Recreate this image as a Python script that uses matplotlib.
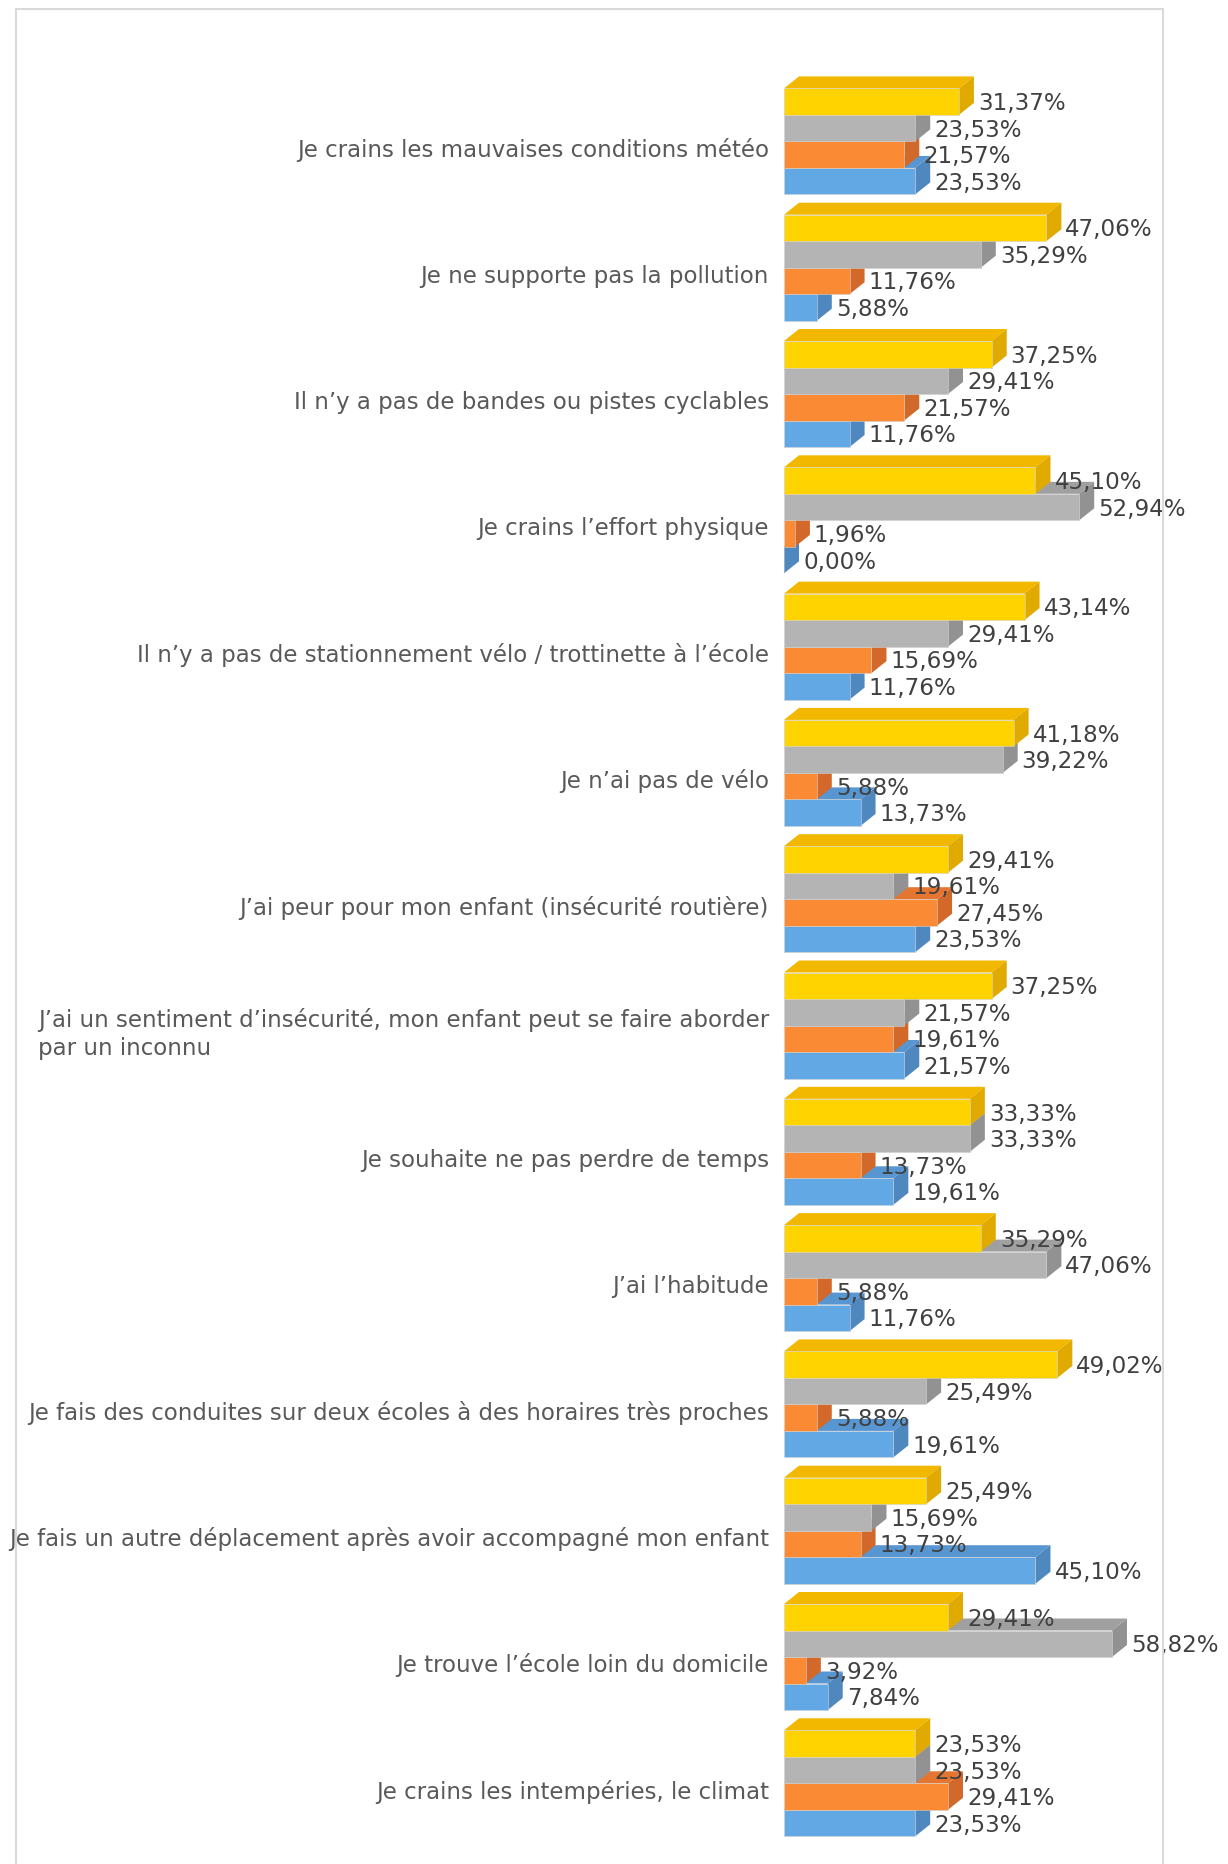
import matplotlib
matplotlib.use("Agg")
import matplotlib.pyplot as plt
from matplotlib.patches import Polygon, Rectangle

categories = [
    "Je crains les mauvaises conditions météo",
    "Je ne supporte pas la pollution",
    "Il n’y a pas de bandes ou pistes cyclables",
    "Je crains l’effort physique",
    "Il n’y a pas de stationnement vélo / trottinette à l’école",
    "Je n’ai pas de vélo",
    "J’ai peur pour mon enfant (insécurité routière)",
    "J’ai un sentiment d’insécurité, mon enfant peut se faire aborder\npar un inconnu",
    "Je souhaite ne pas perdre de temps",
    "J’ai l’habitude",
    "Je fais des conduites sur deux écoles à des horaires très proches",
    "Je fais un autre déplacement après avoir accompagné mon enfant",
    "Je trouve l’école loin du domicile",
    "Je crains les intempéries, le climat",
]
# séries dans l'ordre d'affichage (haut -> bas dans chaque groupe)
serie_jaune = [31.37, 47.06, 37.25, 45.10, 43.14, 41.18, 29.41, 37.25, 33.33, 35.29, 49.02, 25.49, 29.41, 23.53]
serie_grise = [23.53, 35.29, 29.41, 52.94, 29.41, 39.22, 19.61, 21.57, 33.33, 47.06, 25.49, 15.69, 58.82, 23.53]
serie_orange = [21.57, 11.76, 21.57, 1.96, 15.69, 5.88, 27.45, 19.61, 13.73, 5.88, 5.88, 13.73, 3.92, 29.41]
serie_bleue = [23.53, 5.88, 11.76, 0.00, 11.76, 13.73, 23.53, 21.57, 19.61, 11.76, 19.61, 45.10, 7.84, 23.53]

# couleurs : (face, dessus, côté)
COULEURS = [
    ("#FFD300", "#F2B800", "#E0AA00"),
    ("#B4B4B4", "#A0A0A0", "#929292"),
    ("#FB8A35", "#E57631", "#D2692B"),
    ("#62A8E5", "#5896D2", "#4F87BF"),
]
series = [serie_jaune, serie_grise, serie_orange, serie_bleue]

W, H = 1228, 1865
X0 = 784.0        # pixel de l'origine des barres
PX_PCT = 5.576    # pixels par point de pourcentage
Y0 = 142.4        # centre du premier groupe (pixels)
PAS = 126.3       # pas entre groupes (pixels)
DX, DY = 15.0, 12.0   # profondeur 3D en pixels

fig = plt.figure(figsize=(W / 100, H / 100), dpi=100)
ax = fig.add_axes([0, 0, 1, 1])
ax.set_xlim(-X0 / PX_PCT, (W - X0) / PX_PCT)
ax.set_ylim((H - Y0) / PAS, -Y0 / PAS)
ax.axis("off")

h = 26.5 / PAS
ddx = DX / PX_PCT
ddy = DY / PAS

# cadre du graphique
fig.patches.append(Rectangle((15.5 / W, -0.01), (1162.5 - 15.5) / W, 1 - 9.5 / H + 0.01,
                             transform=fig.transFigure, fill=False,
                             edgecolor="#D9D9D9", linewidth=1.5))

for i, cat in enumerate(categories):
    # dessin du bas (bleu) vers le haut (jaune)
    for j in range(3, -1, -1):
        v = series[j][i]
        face, dessus, cote = COULEURS[j]
        haut = i - 2 * h + j * h
        bas = haut + h
        ax.add_patch(Polygon([(0, haut), (v, haut), (v + ddx, haut - ddy), (ddx, haut - ddy)],
                             closed=True, facecolor=dessus, edgecolor="none"))
        ax.add_patch(Polygon([(v, haut), (v + ddx, haut - ddy), (v + ddx, bas - ddy), (v, bas)],
                             closed=True, facecolor=cote, edgecolor="none"))
        ax.add_patch(Rectangle((0, haut), v, h, facecolor=face, edgecolor="#D0D0D0",
                               linewidth=0.4))
    for j in range(4):
        v = series[j][i]
        haut = i - 2 * h + j * h
        ax.text(v + ddx + 4 / PX_PCT, haut + h / 2 + 1 / PAS, f"{v:.2f}%".replace(".", ","),
                ha="left", va="center", fontsize=16.6, color="#404040")
    ax.text(-15 / PX_PCT, i + 7.5 / PAS, cat, ha="right", va="center",
            multialignment="left", fontsize=16.5, color="#595959", linespacing=1.25)

plt.savefig("out.png", dpi=100)
